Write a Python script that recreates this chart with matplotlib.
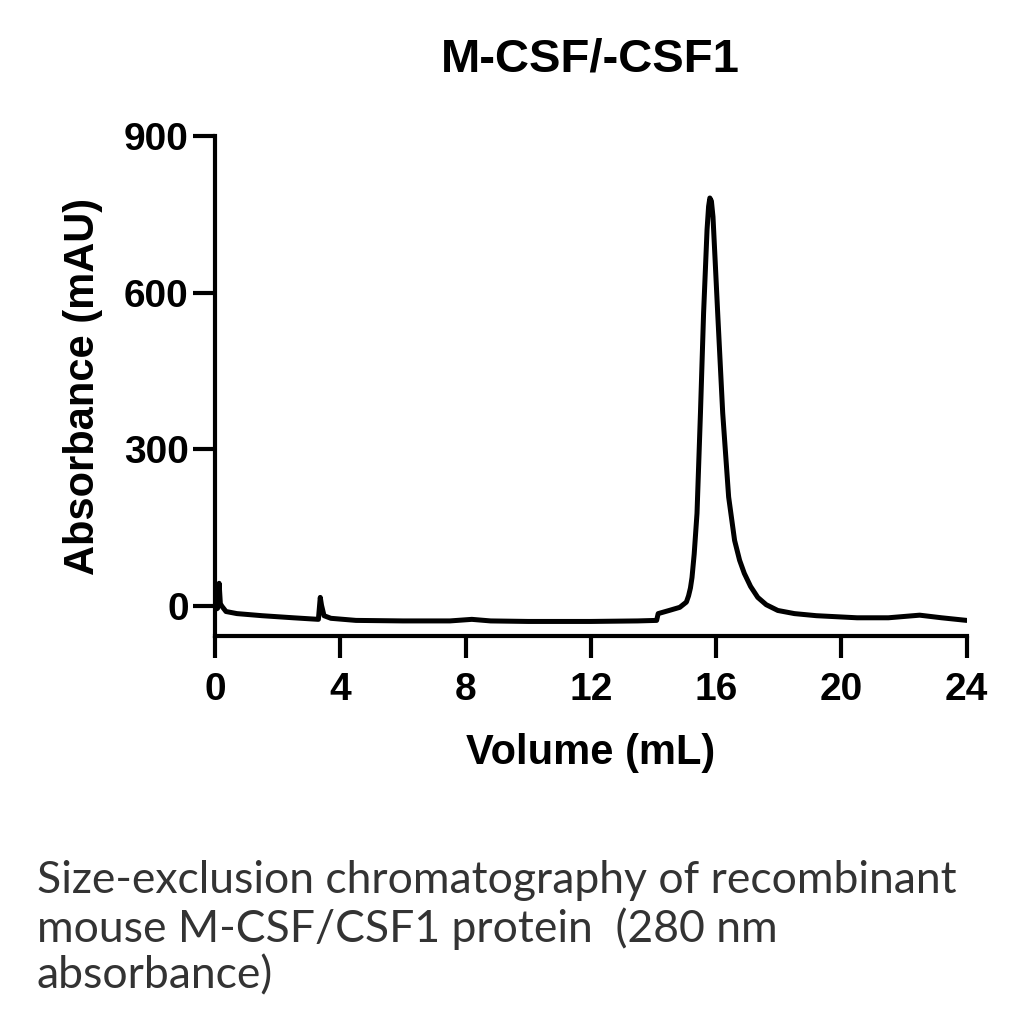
import matplotlib
matplotlib.use("Agg")
import matplotlib.pyplot as plt

# chromatogram trace (volume in mL, absorbance in mAU)
volume = [0.0, 0.08, 0.13, 0.17, 0.22, 0.35, 0.7, 1.5, 2.5, 3.3, 3.36, 3.4, 3.48, 3.7, 4.5,
          6.0, 7.5, 8.2, 8.8, 10.0, 12.0, 13.5, 14.1, 14.15, 14.5, 14.84, 15.05, 15.12,
          15.18, 15.23, 15.3, 15.39, 15.5, 15.6, 15.71, 15.76, 15.8, 15.85, 15.9, 15.97,
          16.05, 16.21, 16.4, 16.59, 16.75, 16.9, 17.1, 17.33, 17.6, 17.97, 18.5, 19.2,
          20.5, 21.5, 22.5, 23.2, 24.0]
absorbance = [-6, -4, 44, 5, 0, -10, -14, -18, -22, -25, 17, 2, -18, -23, -27,
              -28, -28, -25, -28, -29, -29, -28, -27, -14, -8, -2, 8, 20,
              35, 55, 100, 178, 370, 561, 720, 765, 781, 775, 745, 660,
              561, 370, 209, 126, 88, 63, 38, 17, 3, -8, -14, -18,
              -22, -22, -17, -22, -27]

x_ticks = [0, 4, 8, 12, 16, 20, 24]
y_ticks = [0, 300, 600, 900]

plt.rcParams['font.family'] = ['Liberation Sans', 'DejaVu Sans']

fig = plt.figure(figsize=(10.24, 10.21), dpi=100)
ax = fig.add_axes([0.21, 0.377, 0.734, 0.49])

ax.plot(volume, absorbance, color='black', linewidth=3.6,
        solid_joinstyle='round', solid_capstyle='round')

ax.set_xlim(0, 24)
ax.set_ylim(-57, 900)
ax.set_xticks(x_ticks)
ax.set_yticks(y_ticks)

for s in ['top', 'right']:
    ax.spines[s].set_visible(False)
for s in ['left', 'bottom']:
    ax.spines[s].set_linewidth(3)
ax.tick_params(width=3, length=16, labelsize=28)
ax.tick_params(axis='x', pad=10)
ax.tick_params(axis='y', pad=3)
for lab in ax.get_xticklabels() + ax.get_yticklabels():
    lab.set_fontweight('bold')

ax.set_xlabel('Volume (mL)', fontsize=30, fontweight='bold', labelpad=18)
ax.set_ylabel('Absorbance (mAU)', fontsize=30, fontweight='bold', labelpad=15)
ax.set_title('M-CSF/-CSF1', fontsize=34, fontweight='bold', pad=46)

caption = ("Size-exclusion chromatography of recombinant\n"
           "mouse M-CSF/CSF1 protein  (280 nm\n"
           "absorbance)")
fig.text(0.036, 0.158, caption, fontsize=32, family=['Lato', 'DejaVu Sans'],
         color='#333333', va='top', linespacing=1.18)

fig.savefig('out.png', dpi=100, facecolor='white')
